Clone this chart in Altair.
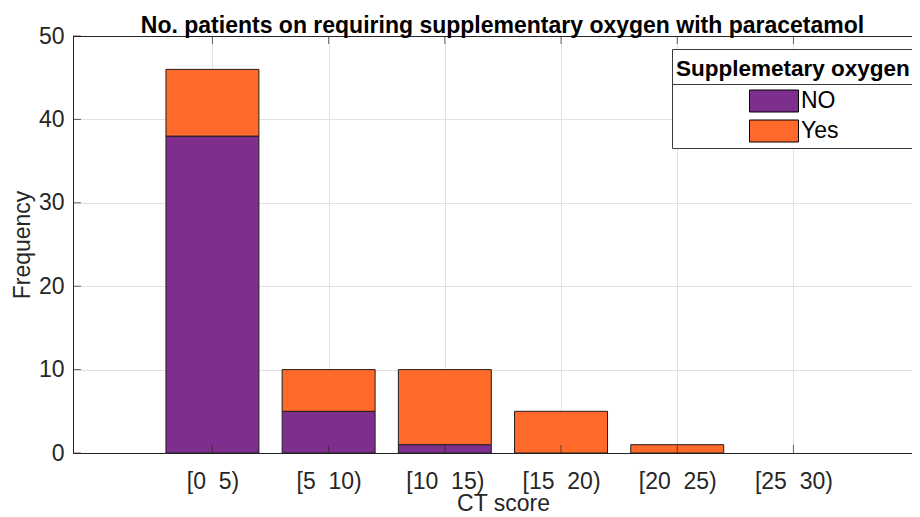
import json
import altair as alt
import pandas as pd

# ---- data ----
categories = ["[0  5)", "[5  10)", "[10  15)", "[15  20)", "[20  25)", "[25  30)"]
no_counts = [38, 5, 1, 0, 0, 0]
yes_counts = [8, 5, 9, 5, 1, 0]
series = ["NO", "Yes"]
series_colors = ["#7E2F8E", "#FF6929"]
y_ticks = [0, 10, 20, 30, 40, 50]

FONT = "Liberation Sans"
AX = "#262626"
GRID = "#e1e1e1"
PLOT_W = 839
PLOT_H = 417
UNIT = 116.2

positions = list(range(1, len(categories) + 1))
shown_labels = [c.replace(" ", "\u00a0") for c in categories]

rows = []
for i, cat in enumerate(categories):
    rows.append({"cat": cat, "pos": positions[i], "group": series[0], "ord": 0, "count": no_counts[i]})
    rows.append({"cat": cat, "pos": positions[i], "group": series[1], "ord": 1, "count": yes_counts[i]})
df = pd.DataFrame(rows)

xscale = alt.Scale(domain=[-0.2, -0.2 + PLOT_W / UNIT], nice=False, zero=False)
yscale = alt.Scale(domain=[0, 50], nice=False)

label_expr = json.dumps(shown_labels, ensure_ascii=False) + "[datum.value - 1]"

x_axis = alt.Axis(
    values=positions, labelExpr=label_expr, grid=True, gridColor=GRID,
    ticks=False, tickSize=0, domainColor=AX, labelFont=FONT, labelFontSize=23,
    labelColor=AX, labelBaseline="alphabetic", labelPadding=35, labelOverlap=False,
    labelFlush=False,
    title="CT score", titleFont=FONT, titleFontSize=23, titleFontWeight="normal",
    titleColor=AX, titleX=430, titleY=57, titleBaseline="alphabetic", titleAlign="center",
)
y_axis = alt.Axis(
    values=y_ticks, grid=True, gridColor=GRID, ticks=False, tickSize=0,
    domainColor=AX, labelFont=FONT, labelFontSize=23, labelColor=AX, labelPadding=9,
    labelOverlap=False, labelFlush=False,
    title="Frequency", titleFont=FONT, titleFontSize=23, titleFontWeight="normal",
    titleColor=AX, titleX=-43.5, titleY=208.5, titleBaseline="alphabetic", titleAlign="center",
)

swatch = "M-2.227,-1L2.227,-1L2.227,1L-2.227,1Z"

bars = (
    alt.Chart(df)
    .transform_stack(stack="count", groupby=["pos"], as_=["y0", "y1"],
                     sort=[alt.SortField("ord", order="ascending")])
    .transform_filter("datum.count > 0")
    .transform_calculate(lo="datum.pos - 0.4", hi="datum.pos + 0.4")
    .mark_bar(stroke="#1f1f1f", strokeWidth=1, opacity=1)
    .encode(
        x=alt.X("lo:Q", scale=xscale, axis=x_axis),
        x2="hi:Q",
        y=alt.Y("y0:Q", scale=yscale, axis=y_axis),
        y2="y1:Q",
        color=alt.Color(
            "group:N",
            scale=alt.Scale(domain=series, range=series_colors),
            legend=alt.Legend(
                orient="none", legendX=599, legendY=18.3, padding=4,
                title="Supplemetary oxygen", titleFont=FONT, titleFontSize=22.5,
                titleFontWeight="bold", titleColor="black", titleBaseline="top",
                titleLimit=500, titlePadding=8.7,
                labelFont=FONT, labelFontSize=23, labelColor="black",
                labelOffset=15.5, symbolOffset=86.5, symbolType=swatch, symbolSize=484,
                symbolStrokeColor="black", symbolStrokeWidth=1, symbolOpacity=1,
                rowPadding=3,
            ),
        ),
    )
)

one = pd.DataFrame({"k": [0]})

top_border = alt.Chart(one).mark_rule(color=AX, strokeWidth=1).encode(
    x=alt.value(0), x2=alt.value(PLOT_W + 20), y=alt.value(0.5)
)

legend_box = alt.Chart(one).mark_rect(fill="white", stroke="#3a3a3a", strokeWidth=1).encode(
    x=alt.value(599.5), x2=alt.value(900), y=alt.value(13.5), y2=alt.value(112.5)
)
legend_sep = alt.Chart(one).mark_rule(color="#3a3a3a", strokeWidth=1).encode(
    x=alt.value(599.5), x2=alt.value(900), y=alt.value(48.5)
)

tick_df = pd.DataFrame({"pos": positions})
ytick_df = pd.DataFrame({"v": y_ticks})

xt_bottom = alt.Chart(tick_df).mark_tick(orient="vertical", size=8, thickness=1, color=AX, yOffset=-4).encode(
    x=alt.X("pos:Q", scale=xscale, axis=x_axis), y=alt.value(PLOT_H)
)
xt_top = alt.Chart(tick_df).mark_tick(orient="vertical", size=8, thickness=1, color=AX, yOffset=4).encode(
    x=alt.X("pos:Q", scale=xscale, axis=x_axis), y=alt.value(0)
)
yt_left = alt.Chart(ytick_df).mark_tick(orient="horizontal", size=8, thickness=1, color=AX, xOffset=4).encode(
    y=alt.Y("v:Q", scale=yscale, axis=y_axis), x=alt.value(0)
)

chart = (
    alt.layer(bars, legend_box, legend_sep, top_border, xt_bottom, xt_top, yt_left)
    .properties(
        width=PLOT_W, height=PLOT_H,
        autosize=alt.AutoSizeParams(type="none"),
        padding={"left": 65, "top": 28, "right": 0, "bottom": 64},
        title=alt.TitleParams(
            "No. patients on requiring supplementary oxygen with paracetamol",
            font=FONT, fontSize=23, fontWeight="bold", color="black",
            anchor="middle", baseline="top", offset=0, dy=13, dx=10,
        ),
    )
    .configure_view(stroke=None)
    .configure(background="white")
)

chart.save("out.html", embed_options={"renderer": "svg", "actions": False})
